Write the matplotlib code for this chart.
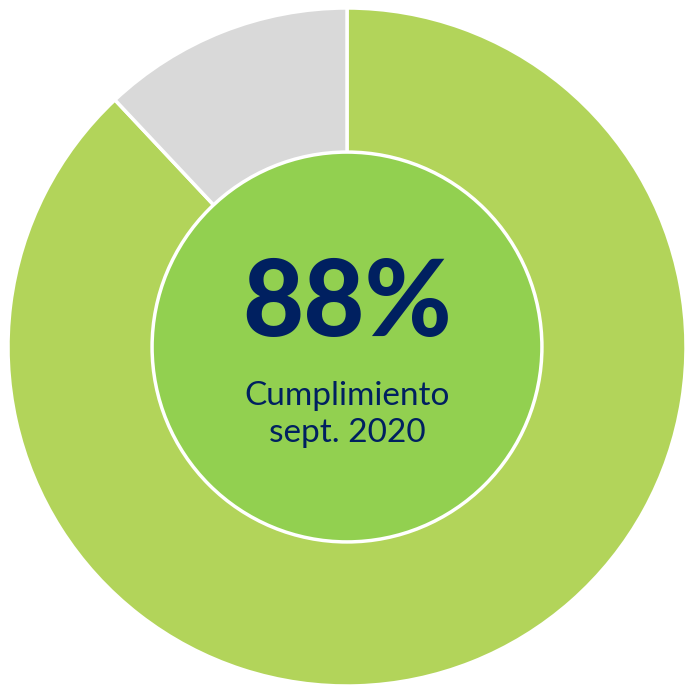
import matplotlib.pyplot as plt
from matplotlib.patches import Circle

labels = ['Cumplido', 'Pendiente']
values = [88, 12]
colors = ['#B2D45A', '#D9D9D9']
big_text = '88%'
sub_text = 'Cumplimiento\nsept. 2020'

plt.rcParams['font.family'] = ['Lato', 'DejaVu Sans']

fig = plt.figure(figsize=(6.86, 6.86), dpi=100)
ax = fig.add_axes([0, 0, 1, 1])

ax.pie(values, colors=colors, startangle=90, counterclock=False, radius=1.0,
       wedgeprops=dict(edgecolor='white', linewidth=2.5))

# inner disc
ax.add_patch(Circle((0, 0), 0.575, facecolor='#92D050', edgecolor='white', linewidth=2.5, zorder=5))

ax.text(0, 0.125, big_text, ha='center', va='center', fontsize=76, fontweight='black',
        color='#002060', zorder=6)
ax.text(0, -0.2, sub_text, ha='center', va='center', fontsize=24, color='#002060',
        linespacing=1.3, zorder=6)

ax.set_xlim(-1.0236, 1.0)
ax.set_ylim(-1.0, 1.0236)
ax.set_aspect('equal')
ax.axis('off')

plt.savefig('out.png', dpi=100)
